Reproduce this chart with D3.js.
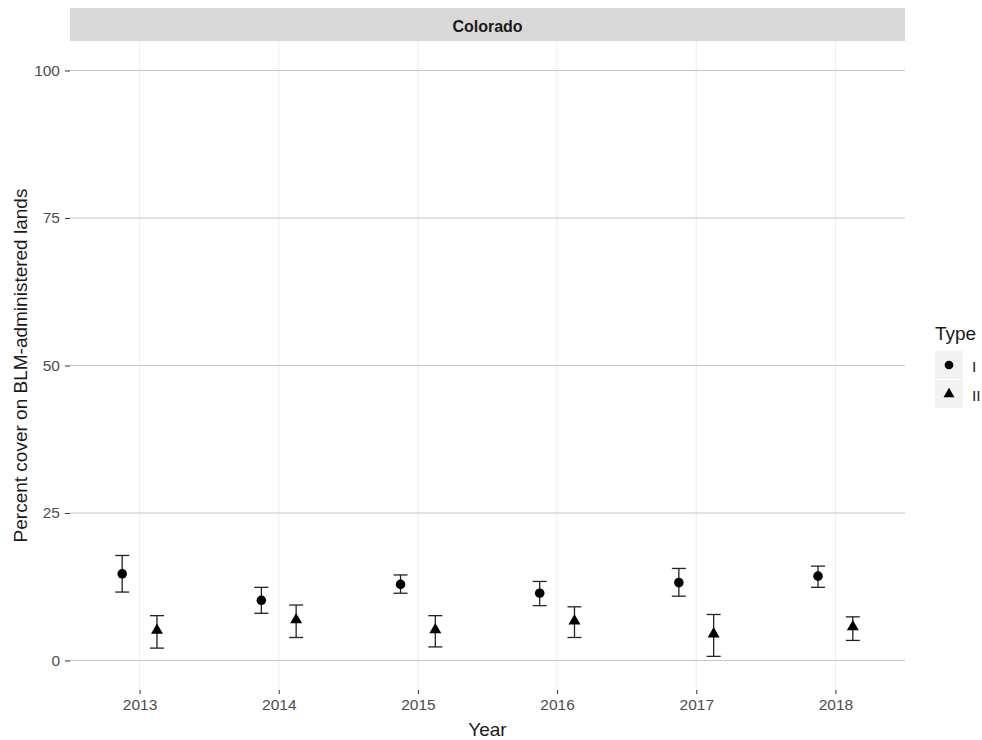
<!DOCTYPE html>
<html>
<head>
<meta charset="utf-8">
<script src="https://cdn.jsdelivr.net/npm/d3@7"></script>
<style>
  body { margin: 0; background: #fff; }
  text { font-family: "Liberation Sans", Arial, sans-serif; }
</style>
</head>
<body>
<div id="chart"></div>
<script>
// data
const years = [2013, 2014, 2015, 2016, 2017, 2018];
const types = ["I", "II"];
const meanI  = [14.7, 10.2, 12.9, 11.4, 13.2, 14.3];
const lowI   = [11.6,  8.0, 11.4,  9.3, 10.9, 12.4];
const highI  = [17.8, 12.4, 14.5, 13.4, 15.6, 16.0];
const meanII = [5.1, 6.9, 5.2, 6.7, 4.5, 5.7];
const lowII  = [2.1, 3.9, 2.3, 3.9, 0.7, 3.4];
const highII = [7.6, 9.4, 7.6, 9.1, 7.8, 7.4];
const yTicks = [0, 25, 50, 75, 100];

const rows = [];
years.forEach((yr, i) => {
    rows.push({year: yr, type: "I", mean: meanI[i], lo: lowI[i], hi: highI[i]});
    rows.push({year: yr, type: "II", mean: meanII[i], lo: lowII[i], hi: highII[i]});
});

const W = 982, H = 740;
const panel = {left: 70, right: 905, top: 41, bottom: 690};

const svg = d3.select("#chart").append("svg")
    .attr("width", W)
    .attr("height", H);

const x = d3.scaleLinear()
    .domain([2012.5, 2018.5])
    .range([panel.left, panel.right]);

const y = d3.scaleLinear()
    .domain([-5, 105])
    .range([panel.bottom, panel.top]);

const dodge = d3.scaleOrdinal().domain(types).range([-0.125, 0.125]);

// strip
svg.append("rect")
    .attr("x", panel.left).attr("y", 8)
    .attr("width", panel.right - panel.left).attr("height", panel.top - 8)
    .attr("fill", "#d9d9d9");
svg.append("text")
    .attr("x", (panel.left + panel.right) / 2).attr("y", 26)
    .attr("text-anchor", "middle").attr("dominant-baseline", "central")
    .attr("font-size", 16).attr("font-weight", "bold").attr("fill", "#1a1a1a")
    .text("Colorado");

// grid
svg.append("g").selectAll("line")
    .data(years).join("line")
    .attr("x1", d => x(d)).attr("x2", d => x(d))
    .attr("y1", panel.top).attr("y2", panel.bottom)
    .attr("stroke", "#f0f0f0").attr("stroke-width", 1.2);

svg.append("g").selectAll("line")
    .data(yTicks).join("line")
    .attr("x1", panel.left).attr("x2", panel.right)
    .attr("y1", d => y(d)).attr("y2", d => y(d))
    .attr("stroke", "#c6c6c6").attr("stroke-width", 1.2);

// axes
const xAxis = d3.axisBottom(x).tickValues(years).tickFormat(d3.format("d"))
    .tickSize(4).tickPadding(5);
const gx = svg.append("g")
    .attr("transform", `translate(0, ${panel.bottom})`)
    .call(xAxis);

const yAxis = d3.axisLeft(y).tickValues(yTicks).tickSize(5).tickPadding(5);
const gy = svg.append("g")
    .attr("transform", `translate(${panel.left}, 0)`)
    .call(yAxis);

[gx, gy].forEach(g => {
    g.select(".domain").remove();
    g.selectAll(".tick line").attr("stroke", "#333");
    g.selectAll(".tick text").attr("fill", "#4d4d4d").attr("font-size", 15.5)
        .attr("font-family", "Liberation Sans, Arial, sans-serif");
});

// axis titles
svg.append("text")
    .attr("x", (panel.left + panel.right) / 2).attr("y", 729)
    .attr("text-anchor", "middle").attr("dominant-baseline", "central")
    .attr("font-size", 19).attr("fill", "#1a1a1a")
    .text("Year");
svg.append("text")
    .attr("transform", `translate(20, ${(panel.top + panel.bottom) / 2}) rotate(-90)`)
    .attr("text-anchor", "middle").attr("dominant-baseline", "central")
    .attr("font-size", 19).attr("fill", "#1a1a1a")
    .text("Percent cover on BLM-administered lands");

// error bars
const cap = 7;
const bars = svg.append("g").selectAll("g")
    .data(rows).join("g")
    .attr("stroke", "#222").attr("stroke-width", 1.3);

bars.append("line")
    .attr("x1", d => x(d.year + dodge(d.type))).attr("x2", d => x(d.year + dodge(d.type)))
    .attr("y1", d => y(d.lo)).attr("y2", d => y(d.hi));
bars.append("line")
    .attr("x1", d => x(d.year + dodge(d.type)) - cap).attr("x2", d => x(d.year + dodge(d.type)) + cap)
    .attr("y1", d => y(d.hi)).attr("y2", d => y(d.hi));
bars.append("line")
    .attr("x1", d => x(d.year + dodge(d.type)) - cap).attr("x2", d => x(d.year + dodge(d.type)) + cap)
    .attr("y1", d => y(d.lo)).attr("y2", d => y(d.lo));

// points
const shape = d3.scaleOrdinal().domain(types).range([d3.symbolCircle, d3.symbolTriangle]);
const sym = d3.symbol().type(d => shape(d.type)).size(d => d.type === "I" ? 72 : 62);

svg.append("g").selectAll("path")
    .data(rows).join("path")
    .attr("transform", d => `translate(${x(d.year + dodge(d.type))}, ${y(d.mean)})`)
    .attr("d", sym)
    .attr("fill", "#000");

// legend
const leg = svg.append("g").attr("transform", "translate(935, 333)");
leg.append("text")
    .attr("x", 0).attr("y", 0)
    .attr("dominant-baseline", "central")
    .attr("font-size", 19).attr("fill", "#1a1a1a")
    .text("Type");
types.forEach((t, i) => {
    const gy0 = 18 + i * 29;
    leg.append("rect")
        .attr("x", 0).attr("y", gy0)
        .attr("width", 28).attr("height", 28)
        .attr("fill", "#f2f2f2");
    leg.append("path")
        .attr("transform", `translate(14, ${gy0 + 14})`)
        .attr("d", d3.symbol().type(shape(t)).size(t === "I" ? 60 : 52)())
        .attr("fill", "#000");
    leg.append("text")
        .attr("x", 37).attr("y", gy0 + 15)
        .attr("dominant-baseline", "central")
        .attr("font-size", 15.5).attr("fill", "#1a1a1a")
        .text(t);
});
</script>
</body>
</html>
